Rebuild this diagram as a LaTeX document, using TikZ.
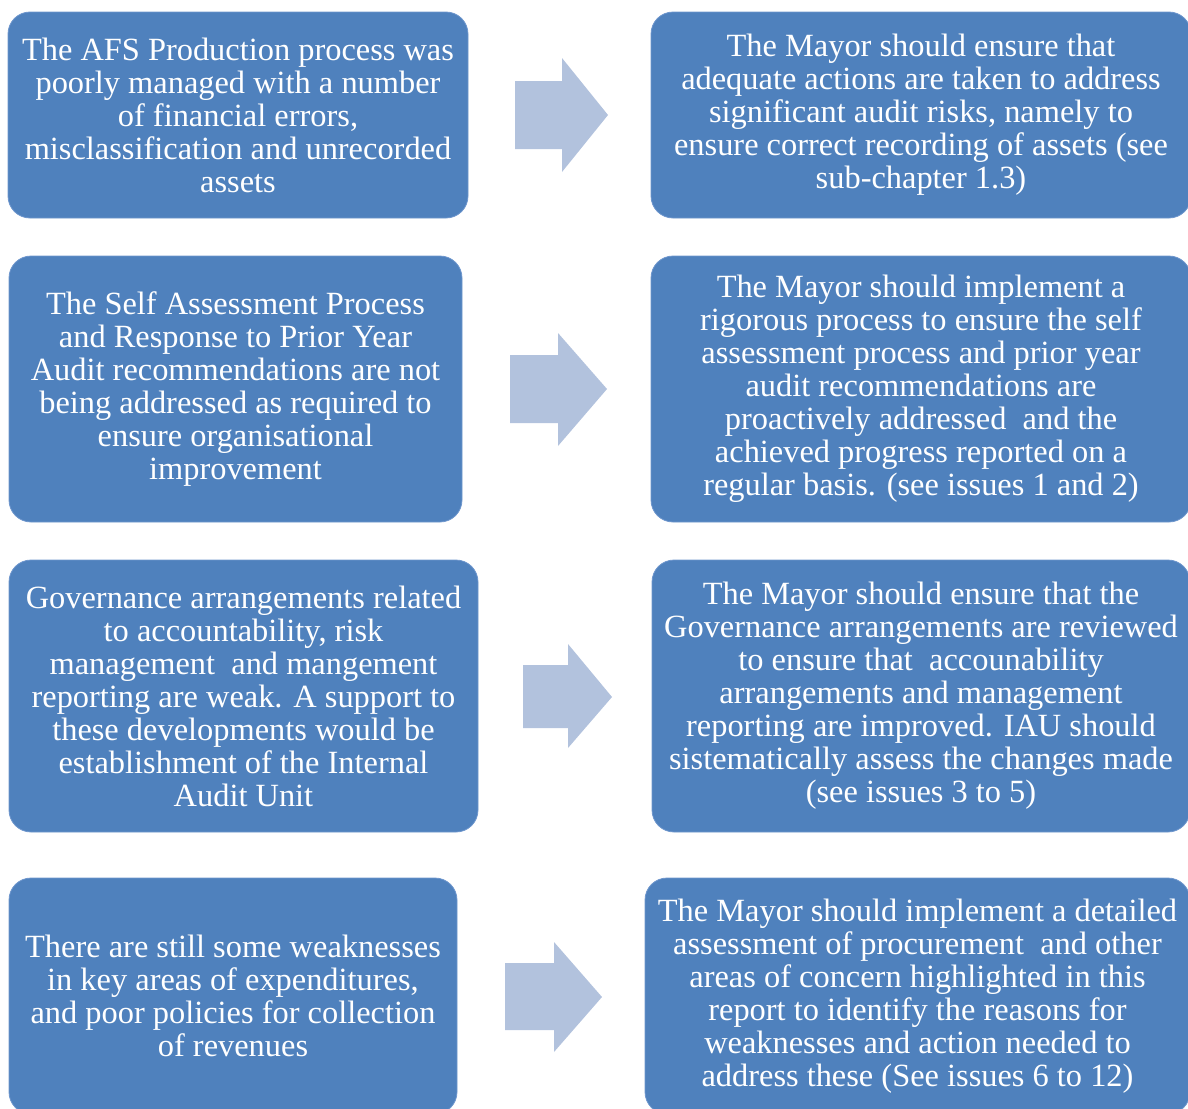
\documentclass[tikz,border=0pt]{standalone}
\usepackage{fontspec}
\setmainfont{Liberation Serif}
\definecolor{boxblue}{RGB}{79,129,189}
\definecolor{boxedge}{RGB}{110,150,205}
\definecolor{arrowblue}{RGB}{178,194,221}
\tikzset{
  x=0.5pt, y=-0.5pt,
  infobox/.style={fill=boxblue, draw=boxedge, line width=0.4pt, rounded corners=11pt,
    text=white, align=center, inner sep=0pt,
    font=\fontsize{16.2}{16.5}\selectfont},
  blockarrow/.style={fill=arrowblue, draw=none}
}
\begin{document}
\begin{tikzpicture}
\useasboundingbox (0,0) rectangle (1188,1108);
\clip (0,0) rectangle (1188,1108);

% Row 1
\node[infobox, minimum width=230pt, minimum height=103pt] (b1l) at (238,115)
 {The AFS Production process was\\ poorly managed with a number\\ of financial errors,\\ misclassification and unrecorded\\ assets};
\node[infobox, minimum width=270pt, minimum height=103pt] (b1r) at (921,115)
 {The Mayor should ensure that\\ adequate actions are taken to address\\ significant audit risks, namely to\\ ensure correct recording of assets (see\\ sub-chapter 1.3)};
\fill[blockarrow] (515,81) -- (562,81) -- (562,58) -- (608,115) -- (562,172) -- (562,149) -- (515,149) -- cycle;

% Row 2
\node[infobox, minimum width=226.5pt, minimum height=133pt] (b2l) at (235.5,389)
 {The Self Assessment Process\\ and Response to Prior Year\\ Audit recommendations are not\\ being addressed as required to\\ ensure organisational\\ improvement};
\node[infobox, minimum width=270pt, minimum height=133pt] (b2r) at (921,389)
 {The Mayor should implement a\\ rigorous process to ensure the self\\ assessment process and prior year\\ audit recommendations are\\ proactively addressed~ and the\\ achieved progress reported on a\\ regular basis. (see issues 1 and 2)};
\fill[blockarrow] (510,355) -- (558,355) -- (558,333) -- (607,389) -- (558,446) -- (558,423) -- (510,423) -- cycle;

% Row 3
\node[infobox, minimum width=234.5pt, minimum height=136pt] (b3l) at (243.5,696)
 {Governance arrangements related\\ to accountability, risk\\ management~ and mangement\\ reporting are weak. A support to\\ these developments would be\\ establishment of the Internal\\ Audit Unit};
\node[infobox, minimum width=269pt, minimum height=136pt] (b3r) at (921,696)
 {The Mayor should ensure that the\\ Governance arrangements are reviewed\\ to ensure that~ accounability\\ arrangements and management\\ reporting are improved. IAU should\\ sistematically assess the changes made\\ (see issues 3 to 5)};
\fill[blockarrow] (523,665) -- (568,665) -- (568,644) -- (612,697) -- (568,748) -- (568,728) -- (523,728) -- cycle;

% Row 4
\node[infobox, minimum width=224pt, minimum height=118pt] (b4l) at (233,996)
 {There are still some weaknesses\\ in key areas of expenditures,\\ and poor policies for collection\\ of revenues};
\node[infobox, minimum width=272.5pt, minimum height=118pt] (b4r) at (917.5,996)
 {The Mayor should implement a detailed\\ assessment of procurement~ and other\\ areas of concern highlighted in this\\ report to identify the reasons for\\ weaknesses and action needed to\\ address these (See issues 6 to 12)};
\fill[blockarrow] (505,963) -- (554,963) -- (554,942) -- (602,997) -- (554,1052) -- (554,1030) -- (505,1030) -- cycle;
\end{tikzpicture}
\end{document}
